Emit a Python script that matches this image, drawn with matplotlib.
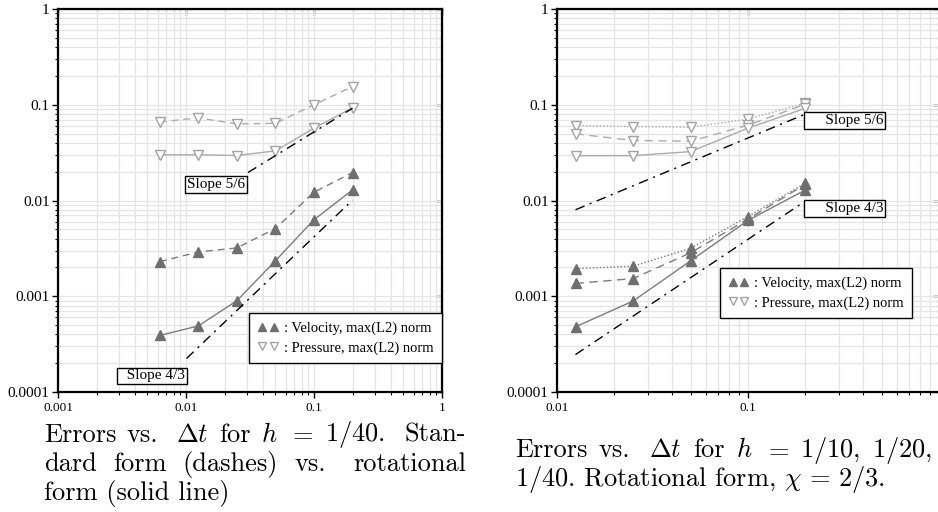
import matplotlib
matplotlib.use("Agg")
import matplotlib.pyplot as plt
from matplotlib.lines import Line2D

# ---- data ----
dt_left = [0.00625, 0.0125, 0.025, 0.05, 0.1, 0.2]
vel_std = [0.0023, 0.0029, 0.0032, 0.0051, 0.0122, 0.0196]
vel_rot = [0.00039, 0.00049, 0.0009, 0.00235, 0.0063, 0.0129]
pre_std = [0.066, 0.073, 0.063, 0.064, 0.10, 0.155]
pre_rot = [0.030, 0.030, 0.0295, 0.033, 0.057, 0.093]

dt_right = [0.0125, 0.025, 0.05, 0.1, 0.2]
vel_h40 = [0.00048, 0.00089, 0.00234, 0.0062, 0.0129]
vel_h20 = [0.00136, 0.00153, 0.00284, 0.0064, 0.0148]
vel_h10 = [0.00194, 0.00206, 0.00316, 0.0068, 0.0152]
pre_h40 = [0.0294, 0.0294, 0.0324, 0.057, 0.092]
pre_h20 = [0.0497, 0.0423, 0.0416, 0.0612, 0.1016]
pre_h10 = [0.0607, 0.0592, 0.0583, 0.0707, 0.104]

# reference slope lines (end points)
left_s56_x, left_s56_y = [0.0305, 0.2], [0.0196, 0.092]
left_s43_x, left_s43_y = [0.0101, 0.2], [0.000224, 0.0101]
right_s56_x, right_s56_y = [0.0125, 0.2], [0.0080, 0.080]
right_s43_x, right_s43_y = [0.0125, 0.2], [0.000246, 0.0099]

left_xticks = [0.001, 0.01, 0.1, 1]
left_xlabels = ["0.001", "0.01", "0.1", "1"]
right_xticks = [0.01, 0.1]
right_xlabels = ["0.01", "0.1"]
yticks = [0.0001, 0.001, 0.01, 0.1, 1]
ylabels = ["0.0001", "0.001", "0.01", "0.1", "1"]

legend_labels = [": Velocity, max(L2) norm", ": Pressure, max(L2) norm"]

plt.rcParams["mathtext.fontset"] = "cm"
SERIF = "Liberation Serif"
VEL_C = "#6f6f6f"
VEL_L = "#7c7c7c"
PRE_C = "#a3a3a3"
PRE_L = "#ababab"
dashdot = (0, (7, 4, 1.5, 4))
dashed = (0, (5, 3.5))
dotted = (0, (1, 1.5))

W, H = 938, 512
fig = plt.figure(figsize=(W / 100, H / 100), dpi=100)
ax1 = fig.add_axes([58 / W, 1 - 392 / H, 384 / W, 383 / H])
ax2 = fig.add_axes([557 / W, 1 - 392 / H, 382 / W, 383 / H])


def style_axes(ax, xlim, xticks, xlabels):
    ax.set_xscale("log")
    ax.set_yscale("log")
    ax.set_xlim(*xlim)
    ax.set_ylim(1e-4, 1)
    ax.grid(True, which="both", color="#e4e4e4", lw=0.9)
    ax.set_axisbelow(True)
    for s in ax.spines.values():
        s.set_linewidth(1.6)
    ax.set_xticks(xticks)
    ax.set_xticklabels(xlabels, fontfamily=SERIF, fontsize=9.5)
    ax.set_yticks(yticks)
    ax.set_yticklabels(ylabels, fontfamily=SERIF, fontsize=11)
    ax.tick_params(which="major", direction="out", length=4, width=1, pad=2)
    ax.tick_params(which="minor", direction="out", length=2.5, width=0.8)
    ax.tick_params(axis="x", pad=3)
    # inward ticks on top and right
    top = ax.secondary_xaxis("top")
    right = ax.secondary_yaxis("right")
    for sec in (top, right):
        sec.tick_params(which="major", direction="in", length=4, width=1)
        sec.tick_params(which="minor", direction="in", length=2.5, width=0.8)
    top.set_xticks(xticks)
    top.set_xticklabels([""] * len(xticks))
    right.set_yticks(yticks)
    right.set_yticklabels([""] * len(yticks))


def slope_label(ax, x, y, txt):
    ax.text(x, y, txt, fontfamily=SERIF, fontsize=11, ha="center", va="center",
            bbox=dict(boxstyle="square,pad=0.12", fc="white", ec="black", lw=1))


def add_legend(ax, anchor, hlen):
    h1 = Line2D([], [], ls="none", marker="^", ms=6, color=VEL_C)
    h2 = Line2D([], [], ls="none", marker="v", ms=6, mfc="white", mec=PRE_C)
    leg = ax.legend([h1, h2], legend_labels, loc="lower right",
                    bbox_to_anchor=anchor, numpoints=2, handlelength=hlen,
                    handletextpad=0.35, borderaxespad=0, fancybox=False,
                    framealpha=1, edgecolor="black", labelspacing=0.4,
                    borderpad=0.6, prop={"family": SERIF, "size": 10.5})
    leg.get_frame().set_linewidth(1)


# ---- left panel ----
style_axes(ax1, (0.001, 1), left_xticks, left_xlabels)
mk = dict(ms=7)
ax1.plot(dt_left, pre_std, ls=dashed, color=PRE_L, lw=1, marker="v",
         mfc="white", mec=PRE_C, **mk)
ax1.plot(dt_left, pre_rot, ls="-", color=PRE_L, lw=1, marker="v",
         mfc="white", mec=PRE_C, **mk)
ax1.plot(dt_left, vel_std, ls=dashed, color=VEL_L, lw=1, marker="^",
         mfc=VEL_C, mec=VEL_C, **mk)
ax1.plot(dt_left, vel_rot, ls="-", color=VEL_L, lw=1, marker="^",
         mfc=VEL_C, mec=VEL_C, **mk)
ax1.plot(left_s56_x, left_s56_y, color="black", lw=1, ls=dashdot)
ax1.plot(left_s43_x, left_s43_y, color="black", lw=1, ls=dashdot)
slope_label(ax1, 0.0171, 0.0147, "Slope 5/6")
slope_label(ax1, 0.0054, 0.000147, "  Slope 4/3")
add_legend(ax1, (1.0, 0.075), 1.42)

# ---- right panel ----
style_axes(ax2, (0.01, 1), right_xticks, right_xlabels)
for ys, ls in ((pre_h10, dotted), (pre_h20, (0, (6, 4))), (pre_h40, "-")):
    ax2.plot(dt_right, ys, ls=ls, color=PRE_L, lw=1, marker="v",
             mfc="white", mec=PRE_C, **mk)
for ys, ls in ((vel_h10, dotted), (vel_h20, (0, (6, 4))), (vel_h40, "-")):
    ax2.plot(dt_right, ys, ls=ls, color=VEL_L, lw=1, marker="^",
             mfc=VEL_C, mec=VEL_C, **mk)
ax2.plot(right_s56_x, right_s56_y, color="black", lw=1, ls=dashdot)
ax2.plot(right_s43_x, right_s43_y, color="black", lw=1, ls=dashdot)
slope_label(ax2, 0.32, 0.068, "     Slope 5/6")
slope_label(ax2, 0.32, 0.0083, "     Slope 4/3")
add_legend(ax2, (0.929, 0.192), 1.33)

# ---- captions (justified like the LaTeX source) ----
CAP = dict(fontfamily="cmr10", fontsize=19, va="baseline")
renderer = fig.canvas.get_renderer()


def justify(words, weights, x0, x1, ybase):
    texts = [fig.text(0, 1 - ybase / H, w, **CAP) for w in words]
    widths = [t.get_window_extent(renderer).width for t in texts]
    unit = (x1 - x0 - sum(widths)) / sum(weights)
    x = x0
    for i, (t, w) in enumerate(zip(texts, widths)):
        t.set_x(x / W)
        if i < len(weights):
            x += w + unit * weights[i]


justify(["Errors", "vs.", r"$\Delta t$", "for", "$h$", "$=$", "$1/40$.", "Stan-"],
        [1, 1.7, 1, 1, 1, 1, 1.9], 44, 466, 441.5)
justify(["dard", "form", "(dashes)", "vs.", "rotational"],
        [1, 1, 1, 1.7], 44, 466, 471)
fig.text(44 / W, 1 - 500 / H, "form (solid line)", **CAP)

justify(["Errors", "vs.", r"$\Delta t$", "for", "$h$", "$=$", "$1/10,$", "$1/20,$"],
        [1, 1.7, 1, 1, 1, 1, 1], 515, 932, 457)
fig.text(515 / W, 1 - 486 / H, r"$1/40$. Rotational form, $\chi\,=\,2/3$.", **CAP)

fig.savefig("out.png", dpi=100)
